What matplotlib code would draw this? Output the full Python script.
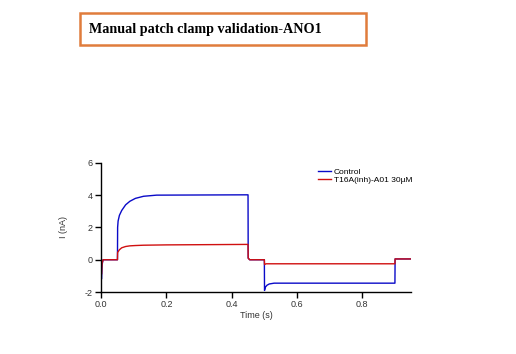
import numpy as np
import matplotlib.pyplot as plt
from matplotlib.patches import Rectangle

# --------------------------------------------------
# Data (time in s, current in nA)
# --------------------------------------------------

control_t = [0.0, 0.001, 0.003, 0.006, 0.05, 0.0505, 0.052, 0.056, 0.063, 0.075,
             0.088, 0.105, 0.13, 0.17, 0.45, 0.4505, 0.455, 0.5, 0.5005, 0.503,
             0.508, 0.515, 0.53, 0.9, 0.9005, 0.95]
control_i = [-0.1, -1.2, -0.3, 0.0, 0.0, 2.0, 2.4, 2.75, 3.05, 3.4,
             3.62, 3.8, 3.93, 4.0, 4.02, 0.1, 0.0, 0.0, -1.9, -1.7,
             -1.58, -1.5, -1.45, -1.45, 0.05, 0.05]

inhib_t = [0.0, 0.001, 0.003, 0.006, 0.05, 0.0505, 0.056, 0.063, 0.075, 0.088,
           0.105, 0.13, 0.2, 0.45, 0.4505, 0.455, 0.5, 0.5005, 0.505, 0.9,
           0.9005, 0.95]
inhib_i = [-0.1, -0.9, -0.2, 0.0, 0.0, 0.45, 0.62, 0.74, 0.82, 0.86,
           0.88, 0.9, 0.92, 0.95, 0.1, 0.0, 0.0, -0.3, -0.25, -0.25,
           0.05, 0.05]

labels = ["Control", "T16A(inh)-A01 30µM"]
title = "Manual patch clamp validation-ANO1"

# --------------------------------------------------
# Plot
# --------------------------------------------------

plt.rcParams['font.family'] = ['Liberation Sans', 'DejaVu Sans']
plt.rcParams['axes.unicode_minus'] = False

fig = plt.figure(figsize=(5.16, 3.54), dpi=100)
ax = fig.add_axes([0.196, 0.175, 0.601, 0.365])

ax.plot(control_t, control_i, color='#0a0ac8', lw=1.0, label=labels[0])
ax.plot(inhib_t, inhib_i, color='#d01010', lw=1.0, label=labels[1])

ax.set_xlim(0, 0.95)
ax.set_ylim(-2, 6)
ax.set_xticks([0.0, 0.2, 0.4, 0.6, 0.8])
ax.set_xticklabels(["0.0", "0.2", "0.4", "0.6", "0.8"])
ax.set_yticks([-2, 0, 2, 4, 6])
for s in ['top', 'right']:
    ax.spines[s].set_visible(False)
for s in ['left', 'bottom']:
    ax.spines[s].set_linewidth(1.0)
ax.tick_params(direction='out', length=4, width=1, labelsize=6.5,
               labelcolor='#333333', pad=2)
ax.set_xlabel("Time (s)", fontsize=6.5, color='#333333', labelpad=1)
ax.set_ylabel("I (nA)", fontsize=6.5, color='#333333', labelpad=12)

ax.legend(loc='upper right', bbox_to_anchor=(1.02, 1.0), frameon=False,
          fontsize=6, handlelength=1.5, handletextpad=0.4, labelspacing=0.1,
          borderaxespad=0.2)

# title box
fig.patches.append(Rectangle((80 / 516, 1 - 45 / 354), 286 / 516, 32 / 354,
                             transform=fig.transFigure, fill=False,
                             edgecolor='#e07c3c', linewidth=1.8))
fig.text(89 / 516, 1 - 29 / 354, title, fontsize=10.2, fontweight='bold',
         family=['Liberation Serif', 'DejaVu Serif'], va='center', ha='left')

fig.savefig("out.png", dpi=100)
